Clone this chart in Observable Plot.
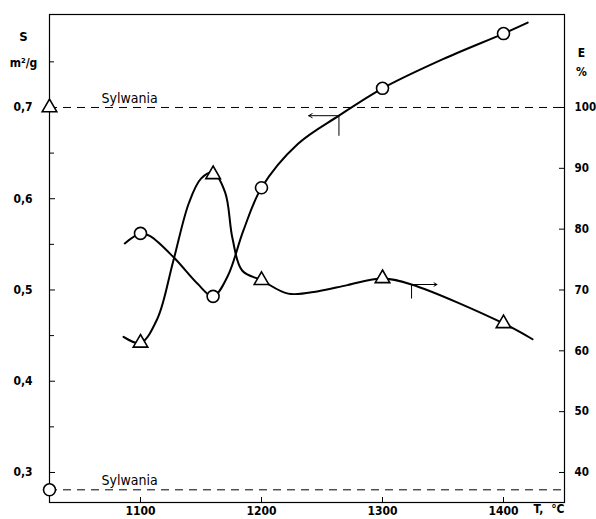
<!DOCTYPE html>
<html><head><meta charset="utf-8">
<script src="https://cdn.jsdelivr.net/npm/d3@7"></script>
<script src="https://cdn.jsdelivr.net/npm/@observablehq/plot@0.6"></script>
<style>
body{margin:0;background:#fff}
</style>
</head><body><div id="chart"></div>
<script>
// measured points (T in °C)
const temps = [1100, 1160, 1200, 1300, 1400];
const surfaceS = [0.562, 0.493, 0.612, 0.721, 0.781];     // S, m²/g (circles, left axis)
const efficiencyE = [61.3, 89.0, 71.6, 71.9, 64.5];       // E, % (triangles, right axis)

// hand-drawn curve traces
const sCurveT = [1087, 1100, 1108, 1128, 1147, 1160, 1172, 1185, 1200, 1230, 1264, 1300, 1350, 1400, 1420];
const sCurveS = [0.551, 0.562, 0.559, 0.535, 0.507, 0.493, 0.515, 0.565, 0.612, 0.660, 0.691, 0.721, 0.753, 0.781, 0.793];
const eCurveT = [1086, 1100, 1114, 1127, 1140, 1150, 1160, 1170, 1176, 1184, 1200, 1222, 1247, 1271, 1300, 1324, 1400, 1424];
const eCurveE = [62.3, 61.3, 65.3, 74.7, 84.3, 88.3, 89.3, 86.0, 78.5, 73.2, 71.6, 69.4, 69.8, 70.8, 71.9, 70.9, 64.5, 61.9];

// reference (Sylwania) values
const sylwaniaS = 0.281;
const sylwaniaE = 100;

// annotation arrows: [T, value]
const sArrowT = [1264, 1239];  const sArrowS = [0.691, 0.669];
const eArrowT = [1324, 1345];  const eArrowE = [70.9, 68.6];

// ticks
const xTicks = [1100, 1200, 1300, 1400];
const sTicks = [0.3, 0.4, 0.5, 0.6, 0.7];
const sMinor = [0.35, 0.45, 0.55, 0.65, 0.75];
const eTicks = [40, 50, 60, 70, 80, 90, 100];

const xDomain = [1024.8, 1450.4];
const sDomain = [0.2671, 0.8019];
const eToS = e => 0.3 + (e - 40) / 150;   // right axis E ↔ left axis S
const comma = v => String(v).replace(".", ",");

const pts = temps.map((t, i) => ({T: t, S: surfaceS[i], E: eToS(efficiencyE[i])}));
const sCurve = sCurveT.map((t, i) => ({T: t, v: sCurveS[i]}));
const eCurve = eCurveT.map((t, i) => ({T: t, v: eToS(eCurveE[i])}));

const fontLbl = {fontSize: 12, fontWeight: "bold", fill: "#000"};

const chart = Plot.plot({
  width: 596, height: 519,
  marginLeft: 49, marginRight: 32, marginTop: 14, marginBottom: 17,
  style: {fontFamily: "'DejaVu Sans Condensed', 'DejaVu Sans', sans-serif", fontStretch: "condensed", color: "#000", background: "#fff"},
  x: {domain: xDomain, label: null},
  y: {domain: sDomain, label: null},
  marks: [
    Plot.frame({stroke: "#000", strokeWidth: 1.2}),
    // axes
    Plot.axisX(xTicks, {anchor: "bottom", tickSize: -5, tickPadding: 9, tickFormat: d => String(d), fontSize: 12, fontWeight: "bold", label: null}),
    Plot.axisY(sTicks, {anchor: "left", tickSize: -6, tickPadding: 23, tickFormat: comma, fontSize: 12, fontWeight: "bold", label: null}),
    Plot.axisY(sMinor, {anchor: "left", tickSize: -5, tickFormat: () => "", label: null}),
    Plot.axisY(eTicks.map(eToS), {anchor: "right", tickSize: -6, tickPadding: 16, label: null,
      tickFormat: s => String(Math.round((s - 0.3) * 150 + 40)), fontSize: 11.5, fontWeight: "bold"}),
    // Sylwania reference lines
    Plot.ruleY([eToS(sylwaniaE), sylwaniaS], {stroke: "#000", strokeWidth: 1, strokeDasharray: "8,6"}),
    Plot.text(["Sylwania"], {x: 1091, y: eToS(sylwaniaE), dy: -9, fontSize: 14, textAnchor: "middle", fill: "#000"}),
    Plot.text(["Sylwania"], {x: 1091, y: sylwaniaS, dy: -9, fontSize: 14, textAnchor: "middle", fill: "#000"}),
    // curves
    Plot.line(sCurve, {x: "T", y: "v", curve: "catmull-rom", stroke: "#000", strokeWidth: 2}),
    Plot.line(eCurve, {x: "T", y: "v", curve: "catmull-rom", stroke: "#000", strokeWidth: 2}),
    // arrows
    Plot.arrow([0], {x1: sArrowT[0], y1: sArrowS[0], x2: sArrowT[1], y2: sArrowS[0], stroke: "#000", strokeWidth: 1, headLength: 6}),
    Plot.link([0], {x1: sArrowT[0], y1: sArrowS[0], x2: sArrowT[0], y2: sArrowS[1], stroke: "#000", strokeWidth: 1}),
    Plot.arrow([0], {x1: eArrowT[0], y1: eToS(eArrowE[0]), x2: eArrowT[1], y2: eToS(eArrowE[0]), stroke: "#000", strokeWidth: 1, headLength: 5}),
    Plot.link([0], {x1: eArrowT[0], y1: eToS(eArrowE[0]), x2: eArrowT[0], y2: eToS(eArrowE[1]), stroke: "#000", strokeWidth: 1}),
    // markers
    Plot.dot(pts, {x: "T", y: "S", symbol: "circle", r: 6, fill: "#fff", stroke: "#000", strokeWidth: 1.6}),
    Plot.dot(pts, {x: "T", y: "E", symbol: "triangle", r: 5.4, fill: "#fff", stroke: "#000", strokeWidth: 1.6}),
    Plot.dot([sylwaniaS], {x: xDomain[0], y: d => d, symbol: "circle", r: 6, fill: "#fff", stroke: "#000", strokeWidth: 1.6}),
    Plot.dot([sylwaniaE], {x: xDomain[0], y: d => eToS(d), symbol: "triangle", r: 5.4, fill: "#fff", stroke: "#000", strokeWidth: 1.6}),
    // axis titles
    Plot.text(["S"], {frameAnchor: "top-left", dx: -26, dy: 17, ...fontLbl, fontSize: 13, textAnchor: "middle"}),
    Plot.text(["m²/g"], {frameAnchor: "top-left", dx: -26, dy: 44, ...fontLbl, textAnchor: "middle"}),
    Plot.text(["E"], {frameAnchor: "top-right", dx: 17, dy: 34, ...fontLbl, textAnchor: "middle"}),
    Plot.text(["%"], {frameAnchor: "top-right", dx: 17, dy: 53, ...fontLbl, textAnchor: "middle"}),
    Plot.text(["T,"], {frameAnchor: "bottom-right", dx: -31, dy: 10, ...fontLbl, textAnchor: "start"}),
    Plot.text(["°C"], {frameAnchor: "bottom-right", dx: 0, dy: 10, ...fontLbl, textAnchor: "end"})
  ]
});
document.getElementById("chart").append(chart);
</script>
</body></html>
